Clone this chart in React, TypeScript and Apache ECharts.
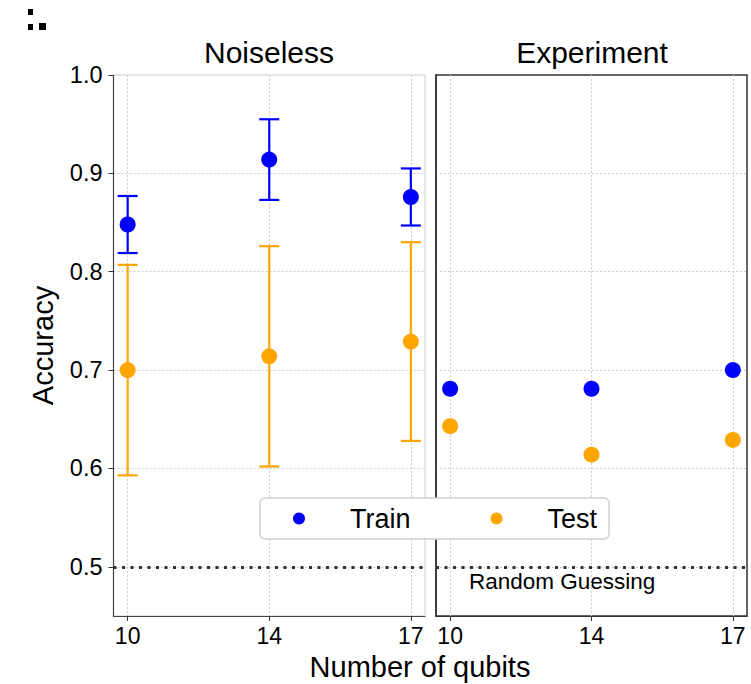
import React, { useEffect, useRef } from "react";
import * as echarts from "echarts";

const qubits = [10, 14, 17];
const noiselessTrain = [0.848, 0.914, 0.876];
const noiselessTrainErr = [0.029, 0.041, 0.029];
const noiselessTest = [0.7, 0.714, 0.729];
const noiselessTestErr = [0.107, 0.112, 0.101];
const experimentTrain = [0.681, 0.681, 0.7];
const experimentTest = [0.643, 0.614, 0.629];
const yTicks = [0.5, 0.6, 0.7, 0.8, 0.9, 1.0];
const randomGuess = 0.5;

const BLUE = "#0000ff";
const ORANGE = "#ffa500";
const FONT = "'Liberation Sans', Arial, sans-serif";

// qubit counts are plotted at evenly spaced positions (their index)
const positions = qubits.map((_, i) => i);

function errData(vals: number[], errs: number[]) {
  return positions.map((p, i) => [p, vals[i] - errs[i], vals[i] + errs[i]]);
}

function errSeries(name: string, vals: number[], errs: number[], color: string) {
  return {
    type: "custom",
    name,
    xAxisIndex: 0,
    yAxisIndex: 0,
    z: 2,
    silent: true,
    encode: { x: 0, y: [1, 2] },
    data: errData(vals, errs),
    renderItem: (params: any, api: any) => {
      const x = api.value(0);
      const top = api.coord([x, api.value(2)]);
      const bot = api.coord([x, api.value(1)]);
      const hw = 10;
      const style = { stroke: color, lineWidth: 2.2 };
      return {
        type: "group",
        children: [
          { type: "line", shape: { x1: top[0], y1: top[1], x2: bot[0], y2: bot[1] }, style },
          { type: "line", shape: { x1: top[0] - hw, y1: top[1], x2: top[0] + hw, y2: top[1] }, style },
          { type: "line", shape: { x1: bot[0] - hw, y1: bot[1], x2: bot[0] + hw, y2: bot[1] }, style },
        ],
      };
    },
  };
}

const guessLine = {
  silent: true,
  symbol: "none",
  label: { show: false },
  lineStyle: { color: "#333333", type: [3, 5.5], width: 3, cap: "butt" },
  data: [{ yAxis: randomGuess }],
};

function xAxis(gridIndex: number, lineColor: string) {
  return {
    type: "value",
    gridIndex,
    min: -0.1,
    max: 2.1,
    axisLine: { show: true, onZero: false, lineStyle: { color: lineColor, width: 1.2 } },
    axisTick: { show: true, length: 5, customValues: positions, lineStyle: { color: "#333" } },
    axisLabel: {
      customValues: positions,
      formatter: (v: number) => String(qubits[Math.round(v)]),
      fontSize: 23,
      color: "#000",
      fontFamily: FONT,
      margin: 8,
    },
    splitLine: { show: true, lineStyle: { color: "#cccccc", type: [2, 2], width: 1 } },
  };
}

export default function App() {
  const ref = useRef<HTMLDivElement>(null);
  useEffect(() => {
    if (!ref.current) return;
    const chart = echarts.init(ref.current, null, { renderer: "svg" });
    chart.setOption({
      animation: false,
      backgroundColor: "#ffffff",
      grid: [
        { left: 113.5, top: 75, width: 311.5, height: 541, show: true, borderColor: "#cccccc", borderWidth: 1 },
        { left: 436, top: 75, width: 311, height: 541, show: true, borderColor: "#333333", borderWidth: 1.5 },
      ],
      xAxis: [xAxis(0, "#444444"), xAxis(1, "#333333")],
      yAxis: [
        {
          type: "value",
          gridIndex: 0,
          min: 0.45,
          max: 1.0,
          name: "Accuracy",
          nameLocation: "middle",
          nameRotate: 90,
          nameGap: 56,
          nameTextStyle: { fontSize: 29, color: "#000", fontFamily: FONT },
          axisLine: { show: true, onZero: false, lineStyle: { color: "#444444", width: 1.2 } },
          axisTick: { show: true, length: 5, customValues: yTicks, lineStyle: { color: "#333" } },
          axisLabel: {
            customValues: yTicks,
            formatter: (v: number) => v.toFixed(1),
            fontSize: 23.5,
            color: "#000",
            fontFamily: FONT,
            margin: 11,
          },
          splitLine: { show: true, showMaxLine: false, lineStyle: { color: "#cccccc", type: [2, 2], width: 1 } },
        },
        {
          type: "value",
          gridIndex: 1,
          min: 0.45,
          max: 1.0,
          axisLine: { show: true, onZero: false, lineStyle: { color: "#333333", width: 1.5 } },
          axisTick: { show: false, customValues: yTicks },
          axisLabel: { show: false, customValues: yTicks },
          splitLine: { show: true, showMaxLine: false, lineStyle: { color: "#cccccc", type: [2, 2], width: 1 } },
        },
      ],
      legend: {
        data: ["Train", "Test"],
        left: 260,
        top: 498,
        orient: "horizontal",
        icon: "circle",
        itemWidth: 12,
        itemHeight: 12,
        itemGap: 80,
        padding: [7, 12, 7, 33],
        backgroundColor: "#ffffff",
        borderColor: "#d0d0d0",
        borderWidth: 1.5,
        borderRadius: 5,
        selectedMode: false,
        textStyle: { fontSize: 27, color: "#000", fontFamily: FONT, padding: [0, 0, 0, 40] },
      },
      series: [
        errSeries("trainErr", noiselessTrain, noiselessTrainErr, BLUE),
        errSeries("testErr", noiselessTest, noiselessTestErr, ORANGE),
        {
          type: "scatter",
          name: "Train",
          xAxisIndex: 0,
          yAxisIndex: 0,
          z: 3,
          symbolSize: 16,
          itemStyle: { color: BLUE, opacity: 1 },
          data: positions.map((p, i) => [p, noiselessTrain[i]]),
          markLine: guessLine,
        },
        {
          type: "scatter",
          name: "Test",
          xAxisIndex: 0,
          yAxisIndex: 0,
          z: 3,
          symbolSize: 16,
          itemStyle: { color: ORANGE, opacity: 1 },
          data: positions.map((p, i) => [p, noiselessTest[i]]),
        },
        {
          type: "scatter",
          name: "Train",
          xAxisIndex: 1,
          yAxisIndex: 1,
          z: 3,
          symbolSize: 16,
          itemStyle: { color: BLUE, opacity: 1 },
          data: positions.map((p, i) => [p, experimentTrain[i]]),
          markLine: guessLine,
        },
        {
          type: "scatter",
          name: "Test",
          xAxisIndex: 1,
          yAxisIndex: 1,
          z: 3,
          symbolSize: 16,
          itemStyle: { color: ORANGE, opacity: 1 },
          data: positions.map((p, i) => [p, experimentTest[i]]),
        },
      ],
      graphic: [
        { type: "rect", shape: { x: 28, y: 9, width: 5, height: 6 }, style: { fill: "#000" } },
        { type: "rect", shape: { x: 28, y: 24, width: 5, height: 6 }, style: { fill: "#000" } },
        { type: "rect", shape: { x: 39, y: 23, width: 7, height: 7 }, style: { fill: "#000" } },
        {
          type: "text",
          x: 269,
          y: 52,
          style: { text: "Noiseless", fontSize: 30, fontFamily: FONT, fill: "#000", align: "center", verticalAlign: "middle" },
        },
        {
          type: "text",
          x: 592,
          y: 52,
          style: { text: "Experiment", fontSize: 30, fontFamily: FONT, fill: "#000", align: "center", verticalAlign: "middle" },
        },
        {
          type: "text",
          x: 420,
          y: 667,
          style: { text: "Number of qubits", fontSize: 29, fontFamily: FONT, fill: "#000", align: "center", verticalAlign: "middle" },
        },
        {
          type: "text",
          x: 469,
          y: 581,
          style: { text: "Random Guessing", fontSize: 22.5, fontFamily: FONT, fill: "#000", align: "left", verticalAlign: "middle" },
        },
      ],
    });
    return () => chart.dispose();
  }, []);
  return <div ref={ref} style={{ width: 751, height: 684, position: "absolute", left: 0, top: 0 }} />;
}
